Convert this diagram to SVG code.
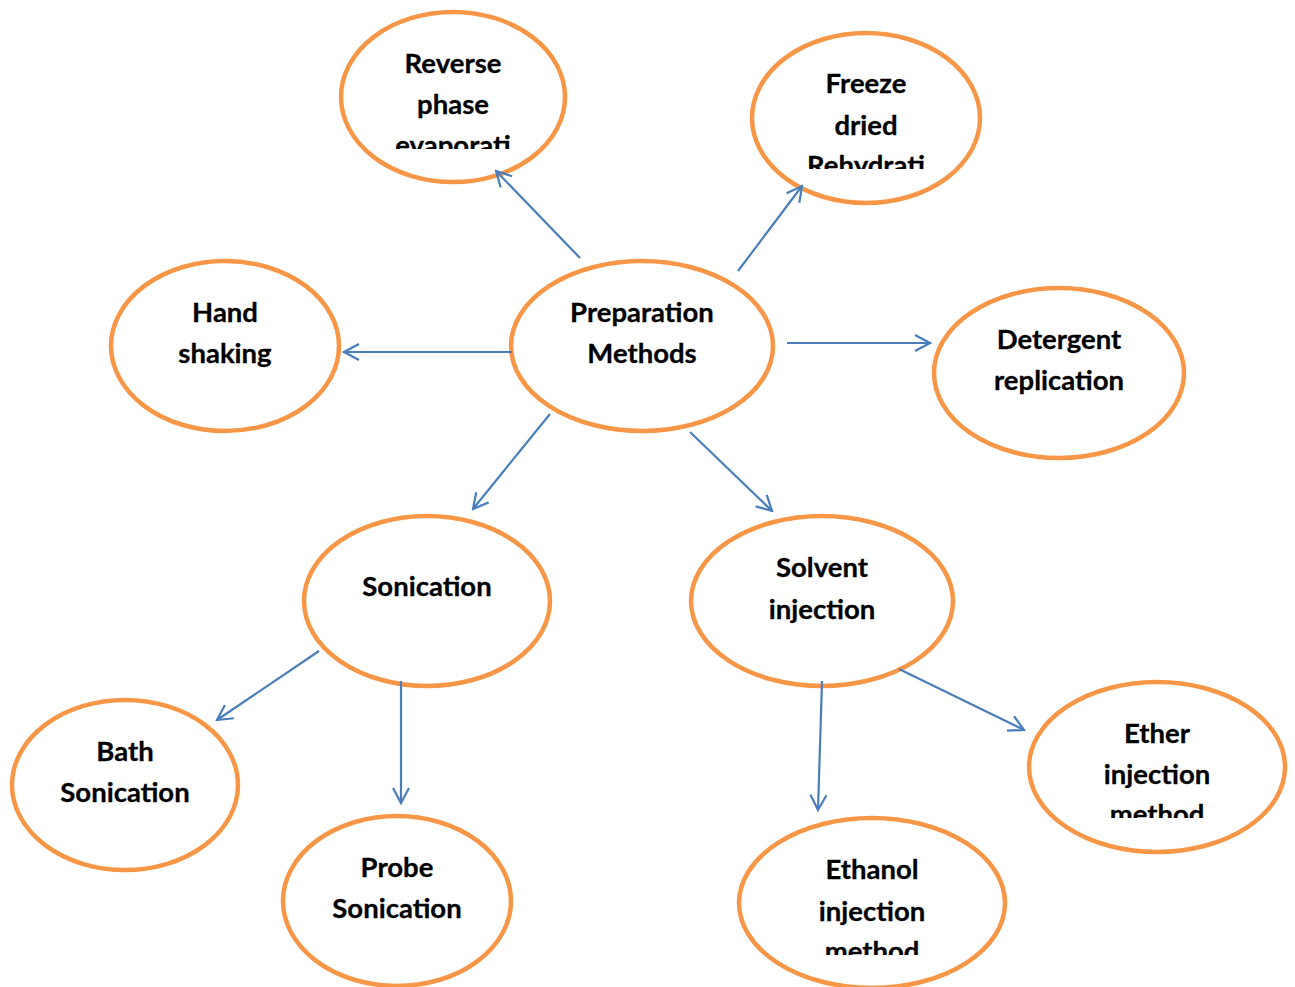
<svg xmlns="http://www.w3.org/2000/svg" width="1295" height="987" viewBox="0 0 1295 987">
<style>
.n{fill:#fff;stroke:#F79646;stroke-width:4.5}
.t{font-family:Lato,"Open Sans","Liberation Sans",sans-serif;font-weight:bold;font-size:27.5px;fill:#000;text-anchor:middle;stroke:#000;stroke-width:0.3}
.c line{stroke:#4A7EBB;stroke-width:2.2;marker-end:url(#ah)}
</style>
<defs>
<marker id="ah" viewBox="-16 -9 18 18" markerWidth="18" markerHeight="18" refX="0" refY="0" orient="auto" markerUnits="userSpaceOnUse">
<path d="M-15,-8 L0,0 L-15,8" fill="none" stroke="#4A7EBB" stroke-width="2.2"/>
</marker>
<clipPath id="c1"><rect x="340" y="11" width="226" height="138"/></clipPath>
<clipPath id="c2"><rect x="751" y="32" width="230" height="137"/></clipPath>
<clipPath id="c3"><rect x="1028" y="681" width="259" height="137"/></clipPath>
<clipPath id="c4"><rect x="738" y="817" width="268" height="138"/></clipPath>
</defs>
<rect width="1295" height="987" fill="#fff"/>
<g id="n-reverse"><ellipse class="n" cx="453" cy="97" rx="112" ry="85"/>
<g clip-path="url(#c1)"><text class="t" x="453" y="73">Reverse</text><text class="t" x="453" y="114">phase</text><text class="t" x="453" y="155">evaporati</text></g></g>
<g id="n-freeze"><ellipse class="n" cx="866" cy="118" rx="114" ry="85"/>
<g clip-path="url(#c2)"><text class="t" x="866" y="93">Freeze</text><text class="t" x="866" y="135">dried</text><text class="t" x="866" y="175">Rehydrati</text></g></g>
<g id="n-hand"><ellipse class="n" cx="225" cy="346" rx="114" ry="85"/>
<text class="t" x="225" y="322">Hand</text><text class="t" x="225" y="363">shaking</text></g>
<g id="n-prep"><ellipse class="n" cx="642" cy="346" rx="131" ry="85"/>
<text class="t" x="642" y="322">Preparation</text><text class="t" x="642" y="363">Methods</text></g>
<g id="n-detergent"><ellipse class="n" cx="1059" cy="373" rx="125" ry="85"/>
<text class="t" x="1059" y="349">Detergent</text><text class="t" x="1059" y="390">replication</text></g>
<g id="n-sonication"><ellipse class="n" cx="427" cy="601" rx="123" ry="85"/>
<text class="t" x="427" y="596">Sonication</text></g>
<g id="n-solvent"><ellipse class="n" cx="822" cy="601" rx="131" ry="85"/>
<text class="t" x="822" y="577">Solvent</text><text class="t" x="822" y="619">injection</text></g>
<g id="n-bath"><ellipse class="n" cx="125" cy="785" rx="113" ry="85"/>
<text class="t" x="125" y="761">Bath</text><text class="t" x="125" y="802">Sonication</text></g>
<g id="n-probe"><ellipse class="n" cx="397" cy="901" rx="114" ry="85"/>
<text class="t" x="397" y="877">Probe</text><text class="t" x="397" y="918">Sonication</text></g>
<g id="n-ether"><ellipse class="n" cx="1157" cy="767" rx="128" ry="85"/>
<g clip-path="url(#c3)"><text class="t" x="1157" y="743">Ether</text><text class="t" x="1157" y="784">injection</text><text class="t" x="1157" y="824">method</text></g></g>
<g id="n-ethanol"><ellipse class="n" cx="872" cy="903" rx="133" ry="85"/>
<g clip-path="url(#c4)"><text class="t" x="872" y="879">Ethanol</text><text class="t" x="872" y="921">injection</text><text class="t" x="872" y="961">method</text></g></g>
<g id="connectors" class="c">
<line x1="580" y1="258" x2="496" y2="171"/>
<line x1="738" y1="271" x2="802" y2="186"/>
<line x1="512" y1="352" x2="344" y2="352"/>
<line x1="787" y1="343" x2="930" y2="343"/>
<line x1="550" y1="414" x2="473" y2="509"/>
<line x1="690" y1="432" x2="772" y2="511"/>
<line x1="319" y1="651" x2="217" y2="720"/>
<line x1="401" y1="681" x2="401" y2="803"/>
<line x1="822" y1="681" x2="818" y2="810"/>
<line x1="899" y1="669" x2="1024" y2="730"/>
</g>
</svg>
